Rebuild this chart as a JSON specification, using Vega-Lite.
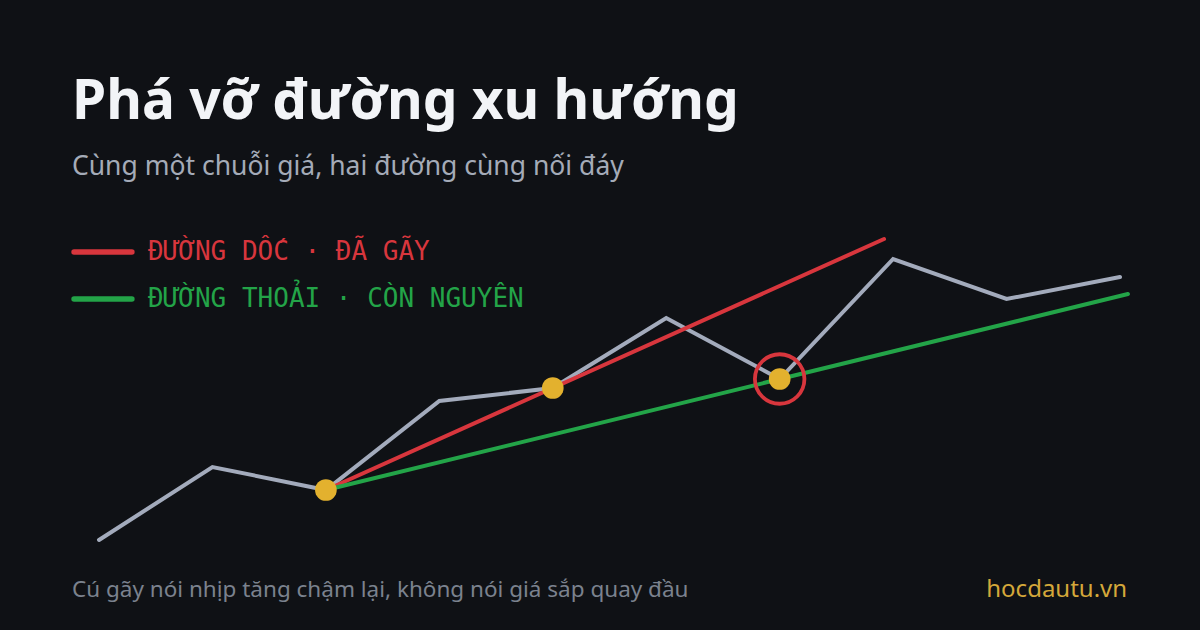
{
  "$schema": "https://vega.github.io/schema/vega-lite/v6.json",
  "width": 1200,
  "height": 430,
  "autosize": "none",
  "padding": {"top": 200, "left": 0, "right": 0, "bottom": 0},
  "background": "#0f1115",
  "config": {"view": {"stroke": null}, "font": "Noto Sans"},
  "title": {
    "text": "Phá vỡ đường xu hướng",
    "subtitle": "Cùng một chuỗi giá, hai đường cùng nối đáy",
    "anchor": "start",
    "frame": "group",
    "dx": 72,
    "offset": 19,
    "font": "Noto Sans",
    "fontSize": 55,
    "fontWeight": "bold",
    "color": "#f2f4f7",
    "subtitleFont": "Noto Sans",
    "subtitleFontSize": 26.5,
    "subtitleColor": "#a4abb8",
    "subtitlePadding": 23
  },
  "datasets": {
    "price": [
      {"i": 0, "price": 18},
      {"i": 1, "price": 32.6},
      {"i": 2, "price": 28},
      {"i": 3, "price": 45.8},
      {"i": 4, "price": 48.4},
      {"i": 5, "price": 62.4},
      {"i": 6, "price": 50.2},
      {"i": 7, "price": 74.2},
      {"i": 8, "price": 66.2},
      {"i": 9, "price": 70.6}
    ],
    "trend": [
      {"series": "steep", "i": 2, "price": 28},
      {"series": "steep", "i": 6.92, "price": 78.2},
      {"series": "flat", "i": 2, "price": 28},
      {"series": "flat", "i": 9.07, "price": 67.2}
    ],
    "touches": [
      {"i": 2, "price": 28, "broken": false},
      {"i": 4, "price": 48.4, "broken": false},
      {"i": 6, "price": 50.2, "broken": true}
    ],
    "legend": [
      {"series": "steep", "label": "ĐƯỜNG DỐC · ĐÃ GÃY", "from": -0.22, "to": 0.29, "at": 0.432, "level": 75.6},
      {"series": "flat", "label": "ĐƯỜNG THOẢI · CÒN NGUYÊN", "from": -0.22, "to": 0.29, "at": 0.432, "level": 66.2}
    ]
  },
  "encoding": {
    "x": {"field": "i", "type": "quantitative", "axis": null,
          "scale": {"domain": [0, 9], "range": [99, 1120], "zero": false}},
    "y": {"field": "price", "type": "quantitative", "axis": null,
          "scale": {"domain": [0, 86], "zero": false}}
  },
  "layer": [
    {
      "data": {"name": "price"},
      "mark": {"type": "line", "color": "#a3abbc", "strokeWidth": 4, "strokeJoin": "miter", "strokeCap": "round"}
    },
    {
      "data": {"name": "trend"},
      "mark": {"type": "line", "strokeWidth": 4, "strokeCap": "round"},
      "encoding": {
        "detail": {"field": "series"},
        "color": {"field": "series", "type": "nominal", "legend": null,
                  "scale": {"domain": ["steep", "flat"], "range": ["#d8363d", "#23a448"]}}
      }
    },
    {
      "data": {"name": "touches"},
      "mark": {"type": "circle", "size": 470, "color": "#e3b12e", "opacity": 1}
    },
    {
      "data": {"name": "touches"},
      "transform": [{"filter": "datum.broken"}],
      "mark": {"type": "point", "shape": "circle", "size": 2450, "filled": false, "color": "#d8363d", "strokeWidth": 3.8, "opacity": 1}
    },
    {
      "data": {"name": "legend"},
      "mark": {"type": "rule", "strokeWidth": 5.5, "strokeCap": "round"},
      "encoding": {
        "x": {"field": "from", "type": "quantitative"},
        "x2": {"field": "to"},
        "y": {"field": "level", "type": "quantitative"},
        "color": {"field": "series", "type": "nominal", "legend": null}
      }
    },
    {
      "data": {"name": "legend"},
      "mark": {"type": "text", "font": "DejaVu Sans Mono", "fontSize": 26, "align": "left", "baseline": "middle"},
      "encoding": {
        "x": {"field": "at", "type": "quantitative"},
        "y": {"field": "level", "type": "quantitative"},
        "text": {"field": "label"},
        "color": {"field": "series", "type": "nominal", "legend": null}
      }
    },
    {
      "data": {"values": [{"note": "Cú gãy nói nhịp tăng chậm lại, không nói giá sắp quay đầu", "i": -0.238, "price": 6.6}]},
      "mark": {"type": "text", "font": "Noto Sans", "fontSize": 22.5, "align": "left", "baseline": "alphabetic", "color": "#7b828e"},
      "encoding": {"text": {"field": "note"}}
    },
    {
      "data": {"values": [{"note": "hocdautu.vn", "i": 9.063, "price": 6.6}]},
      "mark": {"type": "text", "font": "Noto Sans", "fontSize": 24, "align": "right", "baseline": "alphabetic", "color": "#d4a83a"},
      "encoding": {"text": {"field": "note"}}
    }
  ]
}
